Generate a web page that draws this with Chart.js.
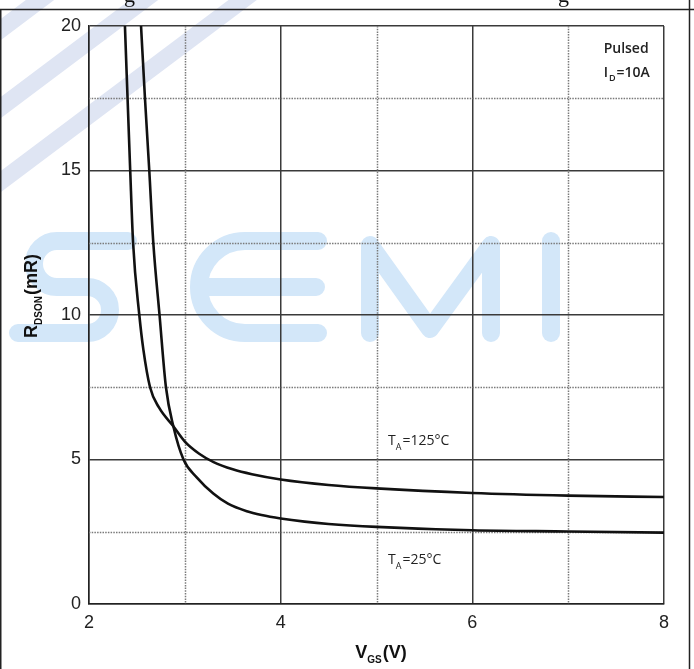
<!DOCTYPE html>
<html>
<head>
<meta charset="utf-8">
<script src="https://cdn.jsdelivr.net/npm/chart.js@4.4.0/dist/chart.umd.min.js"></script>
<style>
  html, body { margin: 0; padding: 0; background: #fff; }
  #wrap { width: 694px; height: 669px; position: relative; }
</style>
</head>
<body>
<div id="wrap"><canvas id="rdsChart" width="694" height="669"></canvas></div>
<script>
// values
const vgsHot = [2.375, 2.43, 2.46, 2.525, 2.567, 2.637, 2.73, 2.88, 3.0, 3.15, 3.3, 3.5, 3.7, 4.0, 4.5, 5.0, 6.0, 7.0, 8.0];
const rdsHot = [20, 15, 12.5, 10.0, 8.81, 7.5, 6.8, 6.15, 5.62, 5.2, 4.91, 4.66, 4.49, 4.31, 4.12, 4.0, 3.84, 3.75, 3.7];
const vgsCold = [2.543, 2.584, 2.629, 2.671, 2.736, 2.803, 2.88, 2.986, 3.124, 3.297, 3.45, 3.646, 3.8, 4.0, 4.25, 4.5, 5.0, 6.0, 7.0, 8.0];
const rdsCold = [20, 17.5, 15, 12.5, 10.0, 7.5, 6.15, 5.0, 4.38, 3.82, 3.47, 3.21, 3.08, 2.96, 2.85, 2.77, 2.67, 2.55, 2.51, 2.47];
const xMinor = [3, 5, 7];
const yMinor = [2.5, 7.5, 12.5, 17.5];

const toPoints = (xs, ys) => xs.map((x, i) => ({ x: x, y: ys[i] }));

const AREA = { left: 89, right: 664, top: 26, bottom: 604 };

// white page, stripes and the SEMI watermark
const background = {
  id: "background",
  beforeDraw(chart) {
    const c = chart.ctx;
    c.save();
    c.fillStyle = "#fff";
    c.fillRect(0, 0, chart.width, chart.height);

    // diagonal stripes top-left
    c.save();
    c.beginPath();
    c.rect(0, 0, 295, 230);
    c.clip();
    c.strokeStyle = "#dfe5f3";
    c.lineWidth = 17;
    [30, 108, 182].forEach(b => {
      c.beginPath();
      c.moveTo(-10, b + 7.5);
      c.lineTo(b / 0.75 + 10, -7.5);
      c.stroke();
    });
    c.restore();

    // SEMI
    c.strokeStyle = "#d3e7f9";
    c.lineWidth = 18;
    c.lineCap = "round";
    c.lineJoin = "round";
    const t = 241, m = 287, b = 333;
    // S
    c.beginPath();
    c.moveTo(128, t);
    c.lineTo(57, t);
    c.arc(57, (t + m) / 2, 23, -Math.PI / 2, Math.PI / 2, true);
    c.lineTo(87, m);
    c.arc(87, (m + b) / 2, 23, -Math.PI / 2, Math.PI / 2, false);
    c.lineTo(18, b);
    c.stroke();
    // E
    c.beginPath();
    c.moveTo(318, t);
    c.lineTo(245, t);
    c.arc(245, m, 46, -Math.PI / 2, Math.PI / 2, true);
    c.lineTo(318, b);
    c.moveTo(199, m);
    c.lineTo(316, m);
    c.stroke();
    // M
    c.beginPath();
    c.moveTo(370, b);
    c.lineTo(370, t + 4);
    c.lineTo(430, b - 4);
    c.lineTo(491, t + 4);
    c.lineTo(491, b);
    c.stroke();
    // I
    c.beginPath();
    c.moveTo(551, t);
    c.lineTo(551, b);
    c.stroke();
    c.restore();
  },
  beforeDatasetsDraw(chart) {
    // dotted minor grid
    const c = chart.ctx;
    const xs = chart.scales.x, ys = chart.scales.y;
    const a = chart.chartArea;
    c.save();
    c.strokeStyle = "#7a7a7a";
    c.lineWidth = 1.5;
    c.setLineDash([1.5, 1.2]);
    xMinor.forEach(v => {
      const px = Math.round(xs.getPixelForValue(v)) + 0.5;
      c.beginPath(); c.moveTo(px, a.top); c.lineTo(px, a.bottom); c.stroke();
    });
    yMinor.forEach(v => {
      const py = Math.round(ys.getPixelForValue(v)) + 0.5;
      c.beginPath(); c.moveTo(a.left, py); c.lineTo(a.right, py); c.stroke();
    });
    c.restore();
  }
};

// text with a subscript part
function subText(c, parts, x, y) {
  let cx = x;
  parts.forEach(p => {
    c.font = p.font;
    c.fillText(p.text, cx, y + (p.dy || 0));
    cx += c.measureText(p.text).width + (p.gap || 0);
  });
}
function subWidth(c, parts) {
  let w = 0;
  parts.forEach(p => { c.font = p.font; w += c.measureText(p.text).width + (p.gap || 0); });
  return w;
}

const labels = {
  id: "labels",
  afterDraw(chart) {
    const c = chart.ctx;
    const xs = chart.scales.x, ys = chart.scales.y;
    c.save();
    c.fillStyle = "#111";
    c.textBaseline = "alphabetic";

    // page frame
    c.strokeStyle = "#222";
    c.lineWidth = 1.5;
    c.beginPath();
    c.moveTo(0, 9.5); c.lineTo(694, 9.5);
    c.moveTo(0.75, 9); c.lineTo(0.75, 669);
    c.moveTo(689.5, 0); c.lineTo(689.5, 669);
    c.stroke();
    c.font = "22px 'Liberation Serif'";
    c.fillText("g", 124, 2);
    c.fillText("g", 558, 2);

    // axis titles
    const bold = "bold 18px 'Liberation Sans'";
    const boldSub = "bold 10px 'Liberation Sans'";
    const yParts = [
      { text: "R", font: bold },
      { text: "DSON", font: boldSub, dy: 5, gap: 1 },
      { text: "(mR)", font: bold }
    ];
    c.save();
    c.translate(37, 296);
    c.rotate(-Math.PI / 2);
    subText(c, yParts, -subWidth(c, yParts) / 2, 0);
    c.restore();

    const xParts = [
      { text: "V", font: bold },
      { text: "GS", font: boldSub, dy: 5, gap: 1 },
      { text: "(V)", font: bold }
    ];
    subText(c, xParts, 381 - subWidth(c, xParts) / 2, 658);

    // annotations
    const note = "600 14px 'Open Sans'";
    const noteSub = "600 9px 'Open Sans'";
    c.fillStyle = "#222";
    c.textAlign = "left";
    c.font = note;
    c.fillText("Pulsed", xs.getPixelForValue(7.37), ys.getPixelForValue(19.08));
    subText(c, [
      { text: "I", font: note, gap: 1 },
      { text: "D", font: noteSub, dy: 4, gap: 1 },
      { text: "=10A", font: note }
    ], xs.getPixelForValue(7.37), ys.getPixelForValue(18.25));
    const noteT = "14px 'Open Sans'";
    const noteTSub = "9px 'Open Sans'";
    subText(c, [
      { text: "T", font: noteT, gap: 0 },
      { text: "A", font: noteTSub, dy: 5, gap: 1 },
      { text: "=125°C", font: noteT }
    ], xs.getPixelForValue(5.12), ys.getPixelForValue(5.5));
    subText(c, [
      { text: "T", font: noteT, gap: 0 },
      { text: "A", font: noteTSub, dy: 5, gap: 1 },
      { text: "=25°C", font: noteT }
    ], xs.getPixelForValue(5.12), ys.getPixelForValue(1.38));
    c.restore();
  }
};

const ctx = document.getElementById("rdsChart");
let rdsChart = new Chart(ctx, {
  type: "scatter",
  data: {
    datasets: [
      {
        label: "TA=125°C",
        data: toPoints(vgsHot, rdsHot),
        showLine: true,
        borderColor: "#111",
        borderWidth: 2.6,
        pointRadius: 0,
        cubicInterpolationMode: "monotone"
      },
      {
        label: "TA=25°C",
        data: toPoints(vgsCold, rdsCold),
        showLine: true,
        borderColor: "#111",
        borderWidth: 2.6,
        pointRadius: 0,
        cubicInterpolationMode: "monotone"
      }
    ]
  },
  options: {
    responsive: false,
    animation: false,
    layout: { padding: { top: AREA.top, right: 694 - AREA.right, left: 0, bottom: 0 } },
    plugins: { legend: { display: false }, tooltip: { enabled: false } },
    scales: {
      x: {
        type: "linear",
        min: 2, max: 8,
        afterFit: s => { s.height = 669 - AREA.bottom; },
        ticks: {
          stepSize: 2,
          color: "#222",
          padding: 8,
          font: { family: "'Liberation Sans'", size: 18 }
        },
        grid: { color: "#3a3a3a", lineWidth: 1.5, drawTicks: false },
        border: { color: "#222", width: 1.5 }
      },
      y: {
        min: 0, max: 20,
        afterFit: s => { s.width = AREA.left; },
        ticks: {
          stepSize: 5,
          color: "#222",
          padding: 8,
          font: { family: "'Liberation Sans'", size: 18 }
        },
        grid: { color: "#3a3a3a", lineWidth: 1.5, drawTicks: false },
        border: { color: "#222", width: 1.5 }
      }
    }
  },
  plugins: [background, labels]
});
</script>
</body>
</html>
